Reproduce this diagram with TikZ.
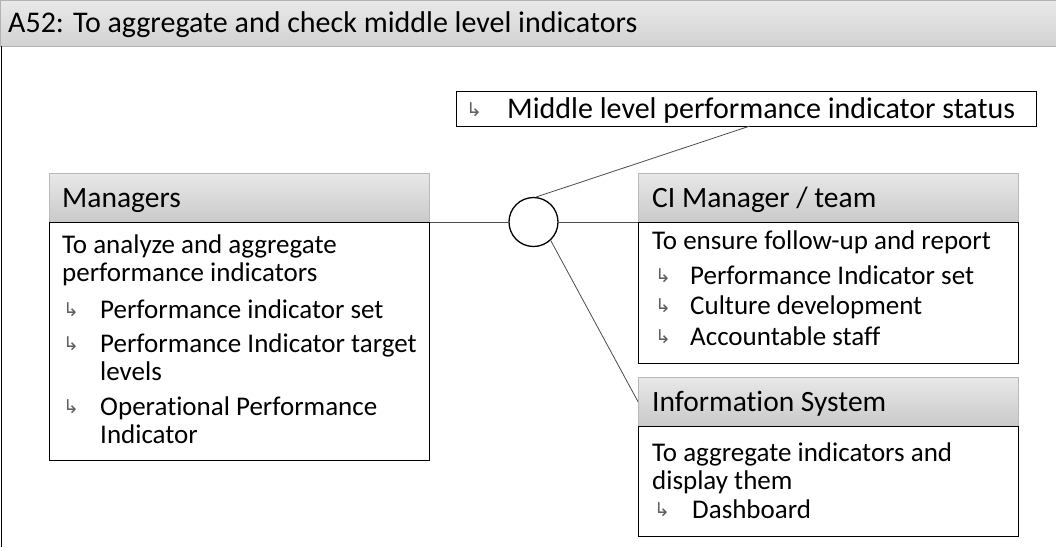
\documentclass[tikz,border=0pt]{standalone}
\usepackage{fontspec}
\setmainfont{Carlito}[Ligatures={NoCommon}]
\newfontfamily\bulletfont{DejaVu Sans}
\newcommand{\ftitle}{\fontsize{30}{36}\selectfont}
\newcommand{\fhead}{\fontsize{29.5}{34}\selectfont}
\newcommand{\fout}{\fontsize{30}{36}\selectfont}
\newcommand{\fbody}{\fontsize{27}{32}\selectfont}
\newcommand{\fbul}{\bulletfont\fontsize{19}{22}\selectfont}
\begin{document}
\begin{tikzpicture}[x=1pt,y=-1pt,
  hdr/.style={draw=gray!55, top color=gray!18, bottom color=gray!42, minimum width=380, minimum height=49, inner sep=0, anchor=north west},
  bodybox/.style={draw=black, line width=1.2, fill=white, anchor=north west, inner sep=0, minimum width=380},
  txt/.style={anchor=base west, inner sep=0, font=\fbody, text=black},
  htxt/.style={anchor=base west, inner sep=0, font=\fhead, text=black},
  blt/.style={anchor=base west, inner sep=0, font=\fbul, text=gray!75!black},
  conn/.style={draw=black!70, line width=0.8}]
\useasboundingbox (0,0) rectangle (1056,547);
% title bar
\node[anchor=north west, minimum width=1056, minimum height=46, inner sep=0, top color=gray!17, bottom color=gray!35, draw=gray!60] (title) at (0,0) {};
\node[anchor=base west, inner sep=0, font=\ftitle, text=black] (titletxt) at (8,32) {A52: To aggregate and check middle level indicators};
\draw[line width=1.4] (1.5,46) -- (1.5,547);
% output box
\node[bodybox, minimum width=580, minimum height=35] (out) at (456,91) {};
\node[blt] (outb) at (466,116) {↳};
\node[anchor=base west, inner sep=0, font=\fout, text=black] (outt) at (507,118) {Middle level performance indicator status};
\coordinate (outpt) at (750,126);
% managers
\node[hdr] (mgrh) at (49,173) {};
\node[bodybox, minimum height=238] (mgrb) at (49,222) {};
\node[htxt] (mgrht) at (62,207) {Managers};
\node[txt] (m1) at (62,253) {To analyze and aggregate};
\node[txt] (m2) at (62,281) {performance indicators};
\node[blt] (mb3) at (63,316) {↳};
\node[txt] (m3) at (100,318) {Performance indicator set};
\node[blt] (mb4) at (63,350) {↳};
\node[txt] (m4) at (100,352) {Performance Indicator target};
\node[txt] (m5) at (100,380) {levels};
\node[blt] (mb6) at (63,413) {↳};
\node[txt] (m6) at (100,415) {Operational Performance};
\node[txt] (m7) at (100,443) {Indicator};
% CI manager
\node[hdr] (cih) at (638,173) {};
\node[bodybox, minimum height=141] (cib) at (638,222) {};
\node[htxt] (ciht) at (652,207) {CI Manager / team};
\node[txt] (c1) at (652,249) {To ensure follow-up and report};
\node[blt] (cb2) at (655,282) {↳};
\node[txt] (c2) at (690,284) {Performance Indicator set};
\node[blt] (cb3) at (655,312) {↳};
\node[txt] (c3) at (690,314) {Culture development};
\node[blt] (cb4) at (655,343) {↳};
\node[txt] (c4) at (690,345) {Accountable staff};
% information system
\node[hdr] (ish) at (638,377) {};
\node[bodybox, minimum height=110] (isb) at (638,426) {};
\node[htxt] (isht) at (652,411) {Information System};
\node[txt] (i1) at (652,461) {To aggregate indicators and};
\node[txt] (i2) at (652,489) {display them};
\node[blt] (ib3) at (654,516) {↳};
\node[txt] (i3) at (692,518) {Dashboard};
% circle
\node[circle, draw=black, line width=1.3, fill=white, minimum size=49, inner sep=0] (circ) at (533.5,222) {};
% connectors
\draw[conn] (mgrb.north east) -- (circ.west);
\draw[conn] (circ.east) -- (cib.north west);
\draw[conn] (circ.84) -- (outpt);
\draw[conn] (circ.-47) -- (ish.west);
\end{tikzpicture}
\end{document}
